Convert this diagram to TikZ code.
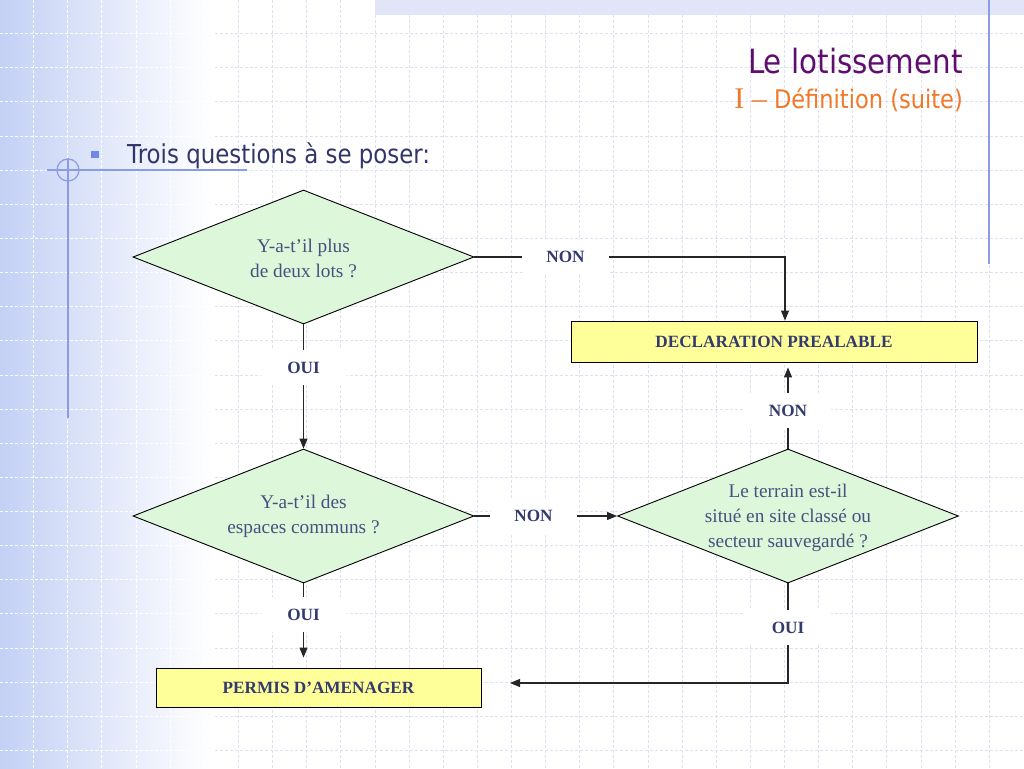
\documentclass[tikz,border=0pt]{standalone}
\usepackage{fontspec}
\setmainfont{Liberation Serif}
\newfontfamily\tahoma[FakeStretch=0.88]{DejaVu Sans}
\usetikzlibrary{shapes.geometric,arrows.meta,calc}
\definecolor{bgblue}{HTML}{C4D1F5}
\definecolor{gridc}{HTML}{DCE0F2}
\definecolor{stripc}{HTML}{E0E6F8}
\definecolor{decoc}{HTML}{8A9DE2}
\definecolor{bulletc}{HTML}{7088E8}
\definecolor{titlec}{HTML}{5E0F6E}
\definecolor{subc}{HTML}{F07828}
\definecolor{headc}{HTML}{31356A}
\definecolor{diafill}{HTML}{DDF7DA}
\definecolor{boxfill}{HTML}{FFFF99}
\definecolor{dtextc}{HTML}{45527F}
\definecolor{labc}{HTML}{333A6E}
\begin{document}
\begin{tikzpicture}[x=1pt,y=-1pt,
  dia/.style={shape=diamond, draw=black, line width=0.9pt, fill=diafill,
    minimum width=341pt, minimum height=134pt, inner sep=0pt},
  dtext/.style={text=dtextc, font=\fontsize{19.3}{25}\selectfont, align=center, inner sep=0pt},
  resbox/.style={draw=black, line width=0.9pt, fill=boxfill, text=labc,
    font=\bfseries\fontsize{17.2}{20}\selectfont, inner sep=0pt},
  lab/.style={fill=white, text=labc, font=\bfseries\fontsize{17.2}{20}\selectfont,
    minimum width=86pt, minimum height=35pt, inner sep=0pt},
  conn/.style={line width=1.1pt, draw=black!85},
  arr/.style={conn, -{Triangle[length=10pt,width=8pt]}},
  gridline/.style={line width=0.8pt, dash pattern=on 3pt off 2pt}
]
\useasboundingbox (0,0) rectangle (1024,768);
% background
\fill[white] (0,0) rectangle (1024,768);
\shade[left color=bgblue, right color=white] (0,0) rectangle (213,768);
\begin{scope}
  \clip (0,0) rectangle (213,768);
  \foreach \i in {1,...,29} \draw[gridline, white] (\i*34.13-0.5,0) -- (\i*34.13-0.5,768);
  \foreach \j in {1,...,22} \draw[gridline, white] (0,\j*34.13-0.5) -- (1024,\j*34.13-0.5);
\end{scope}
\begin{scope}
  \clip (213,0) rectangle (1024,768);
  \foreach \i in {1,...,29} \draw[gridline, gridc] (\i*34.13-0.5,0) -- (\i*34.13-0.5,768);
  \foreach \j in {1,...,22} \draw[gridline, gridc] (0,\j*34.13-0.5) -- (1024,\j*34.13-0.5);
\end{scope}
\fill[stripc] (375,0) rectangle (1024,15);
\draw[decoc, line width=1.2pt] (989,0) -- (989,264);
\draw[decoc, line width=1.2pt] (68,158) -- (68,418);
\draw[decoc, line width=1.2pt] (47,170) -- (247,170);
\draw[decoc, line width=1.2pt] (68,170) circle (11);
\fill[bulletc] (91,151) rectangle (99,158);
% titles
\node[anchor=base east, inner sep=0pt, text=titlec, font=\tahoma\fontsize{33.4}{40}\selectfont] (title) at (963,73) {Le lotissement};
\node[anchor=base east, inner sep=0pt, text=subc, font=\tahoma\fontsize{25.6}{30}\selectfont] (subtitle) at (963,108) {{\rmfamily\fontsize{30}{30}\selectfont I –} Définition (suite)};
\node[anchor=base west, inner sep=0pt, text=headc, font=\tahoma\fontsize{26}{30}\selectfont] (head) at (127,163) {Trois questions à se poser:};
% diagram nodes
\node[dia] (d1) at (303.5,257) {};
\node[dtext] (t1) at (303.5,258) {Y-a-t’il plus\\de deux lots ?};
\node[dia] (d2) at (303.5,516) {};
\node[dtext] (t2) at (303.5,516) {Y-a-t’il des\\espaces communs ?};
\node[dia] (d3) at (788,516) {};
\node[dtext] (t3) at (788,518) {Le terrain est-il\\situé en site classé ou\\secteur sauvegardé ?};
\node[resbox, minimum width=406pt, minimum height=41pt] (decl) at (774,341.5) {DECLARATION PREALABLE};
\node[resbox, minimum width=325pt, minimum height=39pt] (permis) at (318.5,687.5) {PERMIS D’AMENAGER};
% labels
\node[lab] (oui1) at (303.5,367.5) {OUI};
\node[lab] (non1) at (565.5,257) {NON};
\node[lab] (non2) at (533.5,516) {NON};
\node[lab] (oui2) at (303.5,614.5) {OUI};
\node[lab] (non3) at (788,410.5) {NON};
\node[lab] (oui3) at (788,627.5) {OUI};
\coordinate (pin) at (510,683);
% connectors
\draw[conn] (d1.east) -- (non1.west);
\draw[arr] (non1.east) -| ([xshift=11pt]decl.north);
\draw[conn] (d1.south) -- (oui1.north);
\draw[arr] (oui1.south) -- (d2.north);
\draw[conn] (d2.east) -- (non2.west);
\draw[arr] (non2.east) -- (d3.west);
\draw[conn] (d2.south) -- (oui2.north);
\draw[arr] (oui2.south) -- ($(oui2.south |- permis.north)+(0,-10)$);
\draw[conn] (d3.north) -- (non3.south);
\draw[arr] (non3.north) -- ($(non3.north |- decl.south)+(0,5)$);
\draw[conn] (d3.south) -- (oui3.north);
\draw[arr] (oui3.south) |- (pin);
\end{tikzpicture}
\end{document}
